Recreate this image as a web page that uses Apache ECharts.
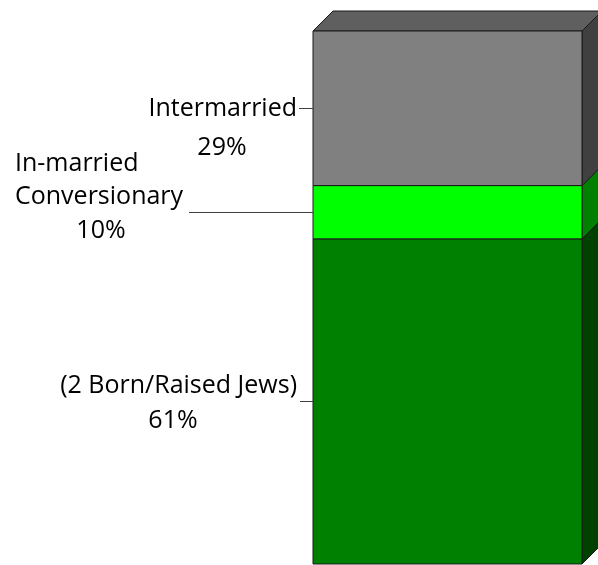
<!DOCTYPE html>
<html>
<head>
<meta charset="utf-8">
<script src="https://cdn.jsdelivr.net/npm/echarts@6/dist/echarts.min.js"></script>
<style>
html,body{margin:0;padding:0;background:#fff;}
#chart{width:598px;height:565px;}
</style>
</head>
<body>
<div id="chart"></div>
<script>
// ---- data ----
const categories = ['Marriages'];
const segmentNames = ['(2 Born/Raised Jews)', 'In-married\nConversionary', 'Intermarried'];
const segmentValues = [61, 10, 29];
const percentLabels = ['61%', '10%', '29%'];

// ---- styles ----
const frontColors = ['#008000', '#00ff00', '#808080'];
const sideColors = ['#004000', '#007f00', '#404040'];
const topColors = ['#004000', '#007f00', '#5f5f5f'];
const DEPTH = 20;
const FONT = '"Open Sans", "DejaVu Sans", sans-serif';
const FS = 25;

// label layout relative to bar left / segment centre
const labelLayouts = [
  { name: { dx: -16, dy: -16, align: 'right' }, pct: { dx: -140, dy: 19 }, lead: -13 },
  { name: { dx: -298, dy: -32, align: 'left' }, pct: { dx: -212, dy: 19 }, lead: -124 },
  { name: { dx: -16, dy: 1, align: 'right' }, pct: { dx: -91, dy: 40 }, lead: -14 }
];

const segData = [];
let acc = 0;
segmentValues.forEach((v, i) => {
  segData.push([0, acc, acc + v, i]);
  acc += v;
});

function renderItem(params, api) {
  const idx = api.value(3);
  const c0 = api.coord([api.value(0), api.value(1)]);
  const c1 = api.coord([api.value(0), api.value(2)]);
  const bw = api.size([1, 0])[0];
  const x0 = c0[0] - bw / 2;
  const x1 = c0[0] + bw / 2;
  const yb = c0[1];
  const yt = c1[1];
  const d = DEPTH;
  const stroke = '#1a1a1a';
  const children = [];
  children.push({
    type: 'polygon',
    shape: { points: [[x1, yt], [x1 + d, yt - d], [x1 + d, yb - d], [x1, yb]] },
    style: { fill: sideColors[idx], stroke: stroke, lineWidth: 1 }
  });
  if (idx === segmentValues.length - 1) {
    children.push({
      type: 'polygon',
      shape: { points: [[x0, yt], [x0 + d, yt - d], [x1 + d, yt - d], [x1, yt]] },
      style: { fill: topColors[idx], stroke: stroke, lineWidth: 1 }
    });
  }
  children.push({
    type: 'rect',
    shape: { x: x0, y: yt, width: x1 - x0, height: yb - yt },
    style: { fill: frontColors[idx], stroke: stroke, lineWidth: 1 }
  });
  const cy = (yb + yt) / 2;
  const L = labelLayouts[idx];
  children.push({
    type: 'line',
    shape: { x1: x0 + L.lead, y1: Math.round(cy) + 0.5, x2: x0, y2: Math.round(cy) + 0.5 },
    style: { stroke: '#404040', lineWidth: 1 }
  });
  children.push({
    type: 'text',
    style: {
      x: x0 + L.name.dx, y: cy + L.name.dy,
      text: segmentNames[idx],
      align: L.name.align, verticalAlign: 'middle',
      font: FS + 'px ' + FONT, fill: '#000', lineHeight: 33
    }
  });
  children.push({
    type: 'text',
    style: {
      x: x0 + L.pct.dx, y: cy + L.pct.dy,
      text: percentLabels[idx],
      align: 'center', verticalAlign: 'middle',
      font: FS + 'px ' + FONT, fill: '#000'
    }
  });
  return { type: 'group', children: children };
}

const chart = echarts.init(document.getElementById('chart'), null, { renderer: 'canvas' });
chart.setOption({
  animation: false,
  grid: { left: 313, right: 16, top: 31, bottom: 1, containLabel: false },
  xAxis: { type: 'category', data: categories, show: false },
  yAxis: { type: 'value', min: 0, max: 100, show: false },
  series: [{
    type: 'custom',
    clip: false,
    renderItem: renderItem,
    encode: { x: 0, y: [1, 2] },
    data: segData
  }]
});
</script>
</body>
</html>
